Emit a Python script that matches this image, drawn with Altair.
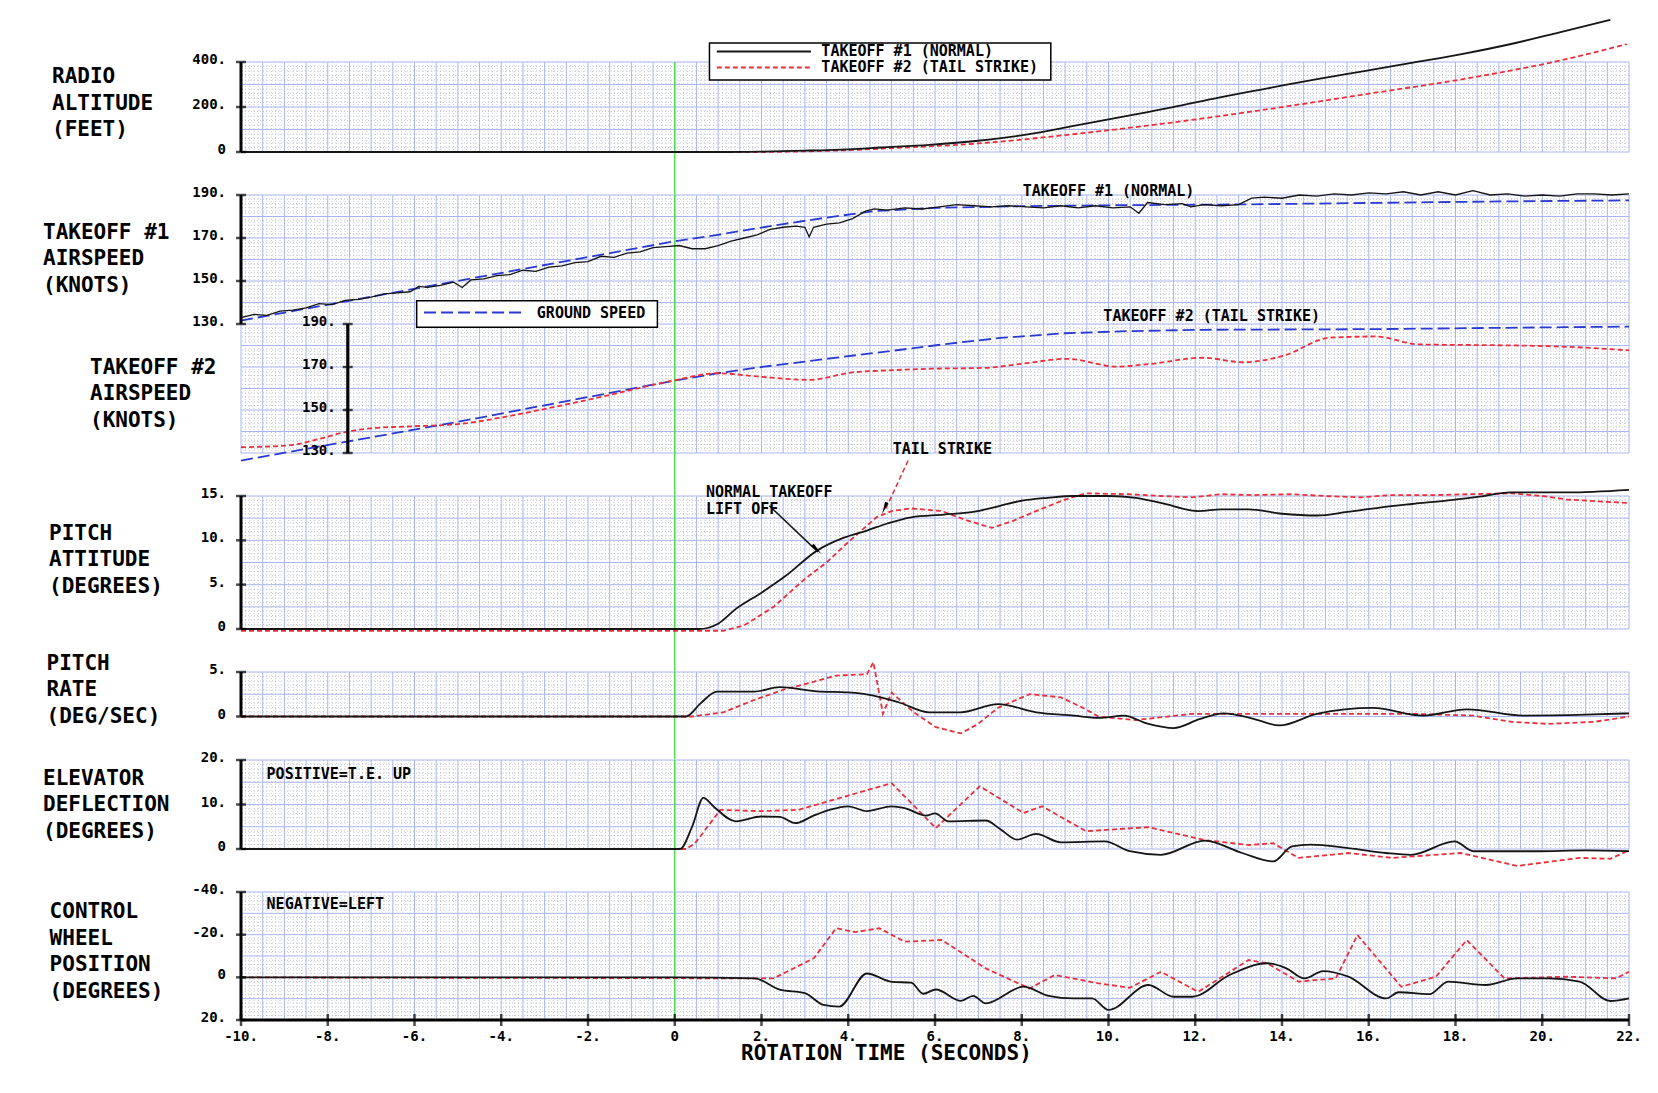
import altair as alt
import pandas as pd
import numpy as np

# ---------------- data ----------------
# Radio altitude (feet)
ALT1_T = [-10, 0, 1, 2, 3, 4, 4.75, 5.87, 6.99, 8.1, 9.23, 10.34, 11.46, 12.57, 13.7, 14.81, 15.93, 17.05, 18.17, 19.28, 20.4, 21.57]
ALT1_V = [0, 0, 0, 2, 6, 12, 20, 32, 50, 77, 117, 157, 198, 243, 284, 324, 361, 398, 436, 480, 532, 587]
ALT2_T = [-10, 0, 2, 3, 4, 4.75, 6.99, 9.23, 11.46, 13.7, 15.93, 18.17, 20.4, 21.96]
ALT2_V = [0, 0, 0, 3, 8, 15, 38, 80, 131, 191, 257, 324, 406, 480]

# Takeoff #1 airspeed (knots)
SPD1_T = [-10, -9.7, -9.4, -9.1, -8.8, -8.5, -8.2, -7.9, -7.6, -7.3, -7.0, -6.7, -6.4, -6.1, -5.9, -5.7, -5.4,
          -5.1, -4.9, -4.7, -4.4, -4.1, -3.8, -3.5, -3.2, -2.9, -2.6, -2.3, -2.0, -1.7, -1.4, -1.1, -0.8, -0.5,
          -0.2, 0.1, 0.4, 0.7, 1.0, 1.3, 1.6, 1.9, 2.2, 2.5, 2.8, 3.0, 3.1, 3.2, 3.5, 3.8, 4.1, 4.4, 4.6, 4.9,
          5.3, 5.7, 6.1, 6.5, 6.9, 7.3, 7.7, 8.1, 8.5, 8.9, 9.3, 9.7, 10.1, 10.5, 10.7, 10.9, 11.3, 11.7, 11.9,
          12.2, 12.6, 13.0, 13.3, 13.6, 14.0, 14.4, 14.8, 15.2, 15.6, 16.0, 16.4, 16.8, 17.2, 17.6, 18.0, 18.4,
          18.8, 19.2, 19.6, 20.0, 20.4, 20.8, 21.2, 21.6, 22.0]
SPD1_V = [133.0, 134.5, 134.0, 136.0, 136.5, 137.5, 139.5, 139.0, 141.0, 141.5, 142.5, 144.0, 144.5, 145.0,
          147.5, 147.0, 148.0, 149.5, 147.0, 150.5, 151.0, 152.5, 153.0, 155.0, 154.5, 156.5, 157.0, 158.5,
          159.0, 161.5, 161.0, 163.0, 163.5, 165.5, 166.0, 166.5, 165.0, 165.0, 166.5, 168.5, 170.0, 171.5,
          174.0, 175.0, 175.5, 175.0, 170.5, 175.0, 176.5, 177.0, 179.0, 182.5, 183.5, 183.0, 184.0, 183.5,
          184.5, 185.5, 185.0, 184.5, 185.0, 184.5, 184.0, 185.0, 184.0, 185.0, 184.0, 184.5, 181.5, 186.5,
          185.5, 186.0, 184.5, 185.5, 185.0, 185.5, 188.5, 189.0, 188.5, 190.0, 189.5, 190.5, 190.0, 191.0,
          190.5, 191.5, 190.0, 191.5, 190.0, 192.0, 190.0, 190.5, 189.5, 190.0, 189.5, 190.5, 190.5, 190.0, 190.5]
GS1_T = [-10, 0, 1, 2.5, 3.5, 4.6, 6, 8, 10, 13, 16, 19, 22]
GS1_V = [131.6, 168.5, 171.5, 176.5, 179.5, 182.5, 184.0, 184.8, 185.2, 185.6, 186.3, 187.0, 187.5]

# Takeoff #2 airspeed (knots)
SPD2_T = [-10, -8.9, -8.2, -7.6, -7.0, -6.2, -4.9, -4.0, -2.8, -1.5, -0.1, 1.0, 1.9, 3.1, 4.06, 5.0, 5.9,
          7.15, 8.0, 9.04, 10.19, 11.0, 12.17, 13.11, 14.04, 15.1, 16.14, 17.18, 18.5, 19.48, 21.0, 22.0]
SPD2_V = [132.7, 133.5, 136.5, 139.7, 141.5, 142.3, 143.6, 146.5, 151.3, 157.0, 163.4, 167.1, 165.6, 164.0,
          167.4, 168.5, 169.2, 169.6, 171.5, 173.8, 170.2, 171.5, 174.3, 172.2, 175.3, 183.6, 184.2, 180.5,
          180.2, 180.0, 179.0, 177.7]
GS2_T = [-10, -5, 0, 1, 2, 3, 3.5, 5, 6.3, 7.5, 9, 10.5, 12.2, 16, 20.5, 22]
GS2_V = [126.5, 144.5, 163.7, 167.1, 170.0, 172.5, 173.8, 177.5, 180.8, 183.5, 185.7, 186.7, 187.3, 187.6, 188.5, 188.8]

# Pitch attitude (degrees)
PIT1_T = [-10, 0.55, 1.0, 1.41, 2.0, 2.56, 3.28, 3.9, 4.43, 4.9, 5.45, 6.2, 6.88, 7.5, 8.04, 8.6, 9.19, 10.0,
          10.63, 11.3, 12.07, 12.6, 13.23, 14.0, 14.81, 15.5, 16.25, 17.0, 17.83, 18.5, 19.28, 20.57, 22]
PIT1_V = [0, 0, 0.6, 2.27, 4.1, 6.0, 8.84, 10.3, 11.1, 11.9, 12.6, 12.9, 13.2, 13.9, 14.5, 14.8, 15.0, 15.0,
          14.8, 14.1, 13.3, 13.5, 13.5, 13.0, 12.8, 13.2, 13.7, 14.1, 14.5, 14.9, 15.4, 15.4, 15.7]
PIT2_T = [-10, 1.12, 1.6, 2.28, 3.0, 3.5, 4.0, 4.65, 5.0, 5.45, 6.16, 6.7, 7.31, 7.8, 8.33, 9.0, 9.48, 10.49,
          11.2, 11.93, 12.6, 13.3, 14.2, 15.0, 15.82, 16.5, 17.5, 18.3, 19.28, 20.0, 20.57, 21.3, 22]
PIT2_V = [-0.2, -0.2, 0.4, 2.5, 5.65, 7.5, 9.8, 12.6, 13.3, 13.6, 13.3, 12.3, 11.4, 12.2, 13.3, 14.6, 15.3, 15.2,
          15.0, 14.85, 15.2, 15.1, 15.2, 15.0, 14.85, 15.1, 15.1, 15.2, 15.3, 15.0, 14.6, 14.4, 14.2]

# Pitch rate (deg/sec)
RAT1_T = [-10, 0.26, 0.6, 0.97, 1.83, 2.42, 3.28, 4.0, 4.58, 5.16, 5.87, 6.59, 7.46, 8.33, 9.2, 9.77, 10.35,
          10.9, 11.5, 12.1, 12.65, 13.3, 13.94, 14.8, 16.1, 17.26, 18.26, 19.57, 21.0, 22]
RAT1_V = [0, 0, 1.5, 2.8, 2.8, 3.3, 2.83, 2.7, 2.35, 1.6, 0.47, 0.47, 1.4, 0.47, 0.1, -0.16, 0.1, -0.8, -1.3,
          -0.3, 0.36, -0.2, -1.0, 0.29, 0.96, 0.1, 0.81, 0.1, 0.2, 0.36]
RAT2_T = [-10, 0.4, 1.12, 1.8, 2.56, 3.2, 3.72, 4.43, 4.58, 4.8, 5.0, 5.5, 6.02, 6.6, 7.0, 7.46, 8.18, 8.9, 9.4,
          9.77, 10.63, 11.93, 14.1, 17.0, 18.4, 19.3, 20.14, 21.2, 22]
RAT2_V = [0, 0, 0.47, 1.8, 3.1, 3.9, 4.6, 4.75, 6.1, 0.3, 2.7, 0.5, -1.2, -1.9, -0.8, 1.0, 2.5, 2.16, 1.0, 0.0,
          -0.4, 0.3, 0.3, 0.3, 0.1, -0.6, -0.83, -0.6, 0.0]

# Elevator deflection (degrees)
ELE1_T = [-10, 0.12, 0.4, 0.66, 0.9, 1.41, 1.99, 2.42, 2.78, 3.2, 3.57, 4.0, 4.43, 5.0, 5.3, 5.8, 6.0, 6.31,
          7.17, 7.5, 7.89, 8.33, 8.9, 9.91, 10.49, 11.21, 12.22, 13.08, 13.8, 14.23, 14.66, 15.53, 16.4, 16.97,
          17.98, 18.41, 19.85, 21.0, 22]
ELE1_V = [0, 0, 5, 11.5, 9.5, 6.2, 7.3, 7.2, 5.8, 7.5, 8.8, 9.6, 8.5, 9.6, 9.2, 7.5, 8.0, 6.2, 6.4, 4.5, 2.1,
          3.4, 1.5, 1.7, -0.5, -1.3, 1.9, -0.9, -2.8, 0.6, 1.0, 0.2, -0.9, -1.3, 1.7, -0.5, -0.5, -0.3, -0.5]
ELE2_T = [-10, 0.26, 0.47, 1.05, 1.99, 2.85, 4.0, 5.0, 6.02, 7.03, 8.04, 8.47, 9.48, 10.92, 12.22, 13.23, 13.8,
          14.38, 15.53, 16.54, 18.12, 19.42, 20.86, 21.57, 22]
ELE2_V = [0, 0, 1.3, 8.8, 8.5, 8.8, 12.0, 14.8, 4.7, 14.1, 8.1, 9.6, 4.0, 4.9, 2.0, 0.9, 1.3, -2.0, -0.9, -2.0,
          -0.9, -3.8, -2.0, -2.2, -0.3]

# Control wheel position (degrees, negative = left)
WHL1_T = [-10, 0, 1.84, 2.42, 3.0, 3.43, 3.79, 4.43, 5.0, 5.45, 5.73, 6.02, 6.6, 6.88, 7.17, 8.04, 8.62, 9.19,
          9.62, 10.0, 10.92, 11.5, 11.93, 12.79, 13.66, 14.1, 14.52, 14.95, 15.53, 16.4, 16.69, 17.4, 17.83,
          18.7, 19.42, 20.14, 20.86, 21.57, 22]
WHL1_V = [0, 0, 0.5, 5.8, 7.4, 12.9, 13.7, -1.8, 2.1, 2.5, 7.7, 5.7, 11.0, 8.7, 12.2, 4.4, 8.7, 9.9, 9.9, 15.3,
          3.6, 9.1, 9.1, -1.1, -6.6, -4.2, 0.5, -2.9, -0.3, 9.9, 7.0, 7.9, 2.0, 3.6, 0.5, 0.5, 2.0, 11.1, 9.9]
WHL2_T = [-10, 2.28, 3.21, 3.72, 4.16, 4.72, 5.3, 6.16, 7.17, 8.18, 8.76, 9.77, 10.49, 11.21, 12.07, 13.23,
          13.66, 14.38, 15.24, 15.74, 16.75, 17.55, 18.26, 19.13, 20.57, 21.7, 22]
WHL2_V = [0, 0.5, -9.0, -23.0, -21.2, -23.0, -16.7, -17.5, -4.2, 5.2, -1.1, 2.8, 4.9, -2.6, 6.8, -8.1, -6.6,
          2.0, 0.5, -19.8, 4.4, -0.3, -17.5, 0.5, -0.3, 0.5, -2.6]

# Axis ticks and labels
X_TICKS = list(range(-10, 23, 2))
X_LABELS = ["-10.", "-8.", "-6.", "-4.", "-2.", "0", "2.", "4.", "6.", "8.", "10.", "12.", "14.", "16.",
            "18.", "20.", "22."]
ALT_TICKS, ALT_LABELS = [0, 200, 400], ["0", "200.", "400."]
SPD_TICKS, SPD_LABELS = [130, 150, 170, 190], ["130.", "150.", "170.", "190."]
PIT_TICKS, PIT_LABELS = [0, 5, 10, 15], ["0", "5.", "10.", "15."]
RAT_TICKS, RAT_LABELS = [0, 5], ["0", "5."]
ELE_TICKS, ELE_LABELS = [0, 10, 20], ["0", "10.", "20."]
WHL_TICKS, WHL_LABELS = [-40, -20, 0, 20], ["-40.", "-20.", "0", "20."]

ROW_TITLES = {
    "alt": ["RADIO", "ALTITUDE", "(FEET)"],
    "spd1": ["TAKEOFF #1", "AIRSPEED", "(KNOTS)"],
    "spd2": ["TAKEOFF #2", "AIRSPEED", "(KNOTS)"],
    "pit": ["PITCH", "ATTITUDE", "(DEGREES)"],
    "rat": ["PITCH", "RATE", "(DEG/SEC)"],
    "ele": ["ELEVATOR", "DEFLECTION", "(DEGREES)"],
    "whl": ["CONTROL", "WHEEL", "POSITION", "(DEGREES)"],
}

# ---------------- styling ----------------
FONT = "DejaVu Sans Mono"
W = 1388
GAP = 43
BLACK = "#151515"
RED = "#e8303a"
BLUE = "#2a3ad0"
GREEN = "#3fdc3f"
MAJC = "#a9b5ee"
MINC = "#a4a8c0"
XS = alt.Scale(domain=[-10, 22], nice=False, zero=False)


def X(f="x"):
    return alt.X(f"{f}:Q", scale=XS, axis=None)


def Y(ysc, f="y"):
    return alt.Y(f"{f}:Q", scale=ysc, axis=None)


def grid(ysc, y0, y1, ymin_step):
    n_x = 320
    xmaj = [round(-10 + k * 0.1, 3) for k in range(n_x + 1) if k % 5 == 0]
    xmin = [round(-10 + k * 0.1, 3) for k in range(n_x + 1) if k % 5 != 0]
    n_y = int(round((y1 - y0) / ymin_step))
    ymaj = [round(y0 + k * ymin_step, 3) for k in range(n_y + 1) if k % 5 == 0]
    ymn = [round(y0 + k * ymin_step, 3) for k in range(n_y + 1) if k % 5 != 0]
    dot = dict(color=MINC, strokeDash=[1, 2], strokeWidth=1, opacity=0.6)
    solid = dict(color=MAJC, strokeWidth=1)
    return [
        alt.Chart(pd.DataFrame({"x": xmin})).mark_rule(**dot).encode(x=X()),
        alt.Chart(pd.DataFrame({"y": ymn})).mark_rule(**dot).encode(y=Y(ysc)),
        alt.Chart(pd.DataFrame({"x": xmaj})).mark_rule(**solid).encode(x=X()),
        alt.Chart(pd.DataFrame({"y": ymaj})).mark_rule(**solid).encode(y=Y(ysc)),
    ]


def yaxis(ysc, y0, y1, ticks, labels, xpos=-10, dx=-15):
    dom = alt.Chart(pd.DataFrame({"x": [xpos], "y": [y0], "y2": [y1]})).mark_rule(
        color="black", strokeWidth=3).encode(x=X(), y=Y(ysc), y2="y2:Q")
    tk = alt.Chart(pd.DataFrame({"x": [xpos] * len(ticks), "y": ticks})).mark_tick(
        orient="horizontal", color="black", size=10, thickness=2.5).encode(x=X(), y=Y(ysc))
    lb = alt.Chart(pd.DataFrame({"x": [xpos] * len(ticks), "y": ticks, "s": labels})).mark_text(
        align="right", baseline="middle", dx=dx, dy=-2, font=FONT, fontSize=14, fontWeight="bold",
        color="black").encode(x=X(), y=Y(ysc), text="s:N")
    return [dom, tk, lb]


def xaxis(ysc, ybottom):
    dom = alt.Chart(pd.DataFrame({"x": [-10], "x2": [22], "y": [ybottom]})).mark_rule(
        color="black", strokeWidth=3).encode(x=X(), x2="x2:Q", y=Y(ysc))
    tk = alt.Chart(pd.DataFrame({"x": X_TICKS, "y": [ybottom] * len(X_TICKS)})).mark_tick(
        orient="vertical", color="black", size=12, thickness=2.5).encode(x=X(), y=Y(ysc))
    lb = alt.Chart(pd.DataFrame({"x": X_TICKS, "y": [ybottom] * len(X_TICKS), "s": X_LABELS})).mark_text(
        align="center", baseline="middle", dy=17, font=FONT, fontSize=14, fontWeight="bold",
        color="black").encode(x=X(), y=Y(ysc), text="s:N")
    return [dom, tk, lb]


def green(h):
    return alt.Chart(pd.DataFrame({"x": [0]})).mark_rule(color=GREEN, strokeWidth=1.3, clip=False).encode(
        x=X(), y=alt.value(0), y2=alt.value(h))


def series(t, v, ysc, color, dash=None, width=1.6, offset=0.0, interp="linear"):
    df = pd.DataFrame({"t": t, "v": np.array(v, dtype=float) - offset})
    kw = dict(color=color, strokeWidth=width, clip=False, interpolate=interp)
    if dash:
        kw["strokeDash"] = dash
    return alt.Chart(df).mark_line(**kw).encode(x=X("t"), y=Y(ysc, "v"))


def txt(x, y, s, ysc, align="left", size=15):
    df = pd.DataFrame({"x": [x], "y": [y], "s": [s]})
    return alt.Chart(df).mark_text(align=align, baseline="middle", font=FONT, fontSize=size,
                                   fontWeight="bold", color="black").encode(x=X(), y=Y(ysc), text="s:N")


def box(x, x2, y, y2, ysc):
    df = pd.DataFrame({"x": [x], "x2": [x2], "y": [y], "y2": [y2]})
    return alt.Chart(df).mark_rect(fill="white", stroke="black", strokeWidth=1.5).encode(
        x=X(), x2="x2:Q", y=Y(ysc), y2="y2:Q")


def seg(x, x2, y, y2, ysc, color, dash=None, width=2):
    df = pd.DataFrame({"x": [x], "x2": [x2], "y": [y], "y2": [y2]})
    kw = dict(color=color, strokeWidth=width)
    if dash:
        kw["strokeDash"] = dash
    return alt.Chart(df).mark_rule(**kw).encode(x=X(), x2="x2:Q", y=Y(ysc), y2="y2:Q")


ARROW = "M0,0L0.32,2.2L-0.32,2.2Z"


def arrowhead(x, y, angle, ysc):
    df = pd.DataFrame({"x": [x], "y": [y]})
    return alt.Chart(df).mark_point(shape=ARROW, filled=True, color="black", size=130, angle=angle,
                                    opacity=1).encode(x=X(), y=Y(ysc))


def titles(lines, px, pys, size=21):
    out = []
    for line, py in zip(lines, pys):
        out.append(alt.Chart(pd.DataFrame({"a": [0]})).mark_text(
            align="left", baseline="middle", font=FONT, fontSize=size, fontWeight="bold", color="black",
            text=line).encode(x=alt.value(px), y=alt.value(py)))
    return out


# ---------------- panels ----------------
# Radio altitude
H1 = 90
ys1 = alt.Scale(domain=[0, 400], nice=False, zero=False)
anchor = alt.Chart(pd.DataFrame({"a": [0]})).mark_point(color="white", size=1, filled=True).encode(
    x=alt.value(-232), y=alt.value(-53))
p1 = alt.layer(
    anchor,
    *grid(ys1, 0, 400, 20),
    green(H1 + GAP),
    series(ALT2_T, ALT2_V, ys1, RED, dash=[5, 3], width=1.8, interp="monotone"),
    series(ALT1_T, ALT1_V, ys1, BLACK, width=1.8, interp="monotone"),
    box(0.80, 8.67, 320, 484.5, ys1),
    seg(0.97, 3.14, 447, 447, ys1, BLACK, width=2),
    seg(0.97, 3.14, 376, 376, ys1, RED, dash=[5, 3], width=2),
    txt(3.38, 447, "TAKEOFF #1 (NORMAL)", ys1),
    txt(3.38, 376, "TAKEOFF #2 (TAIL STRIKE)", ys1),
    *yaxis(ys1, 0, 400, ALT_TICKS, ALT_LABELS),
    *titles(ROW_TITLES["alt"], -189, [15, 41.6, 68]),
).properties(width=W, height=H1)

# Airspeeds (two stacked scales: takeoff #2 drawn 60 kt lower)
H2 = 258
ys2 = alt.Scale(domain=[70, 190], nice=False, zero=False)
X2AX = -7.54
p2 = alt.layer(
    *grid(ys2, 70, 190, 2),
    green(H2 + GAP),
    box(-5.95, -0.40, 128.5, 140.8, ys2),
    seg(-5.78, -3.48, 135.3, 135.3, ys2, BLUE, dash=[12, 5], width=2),
    txt(-3.18, 135.3, "GROUND SPEED", ys2),
    series(GS1_T, GS1_V, ys2, BLUE, dash=[12, 5], width=1.8),
    series(SPD1_T, SPD1_V, ys2, BLACK, width=1.3),
    series(GS2_T, GS2_V, ys2, BLUE, dash=[12, 5], width=1.8, offset=60),
    series(SPD2_T, SPD2_V, ys2, RED, dash=[5, 3], width=1.8, offset=60, interp="monotone"),
    *yaxis(ys2, 130, 190, SPD_TICKS, SPD_LABELS),
    *yaxis(ys2, 70, 130, [t - 60 for t in SPD_TICKS], SPD_LABELS, xpos=X2AX, dx=-12),
    txt(10.0, 192, "TAKEOFF #1 (NORMAL)", ys2, align="center"),
    txt(12.38, 133.7, "TAKEOFF #2 (TAIL STRIKE)", ys2, align="center"),
    *titles(ROW_TITLES["spd1"], -198, [37.6, 64, 90.5]),
    *titles(ROW_TITLES["spd2"], -151, [173, 199, 226]),
).properties(width=W, height=H2)

# Pitch attitude
H3 = 133
ys3 = alt.Scale(domain=[0, 15], nice=False, zero=False)
p3 = alt.layer(
    *grid(ys3, 0, 15, 0.5),
    green(H3 + GAP),
    series(PIT2_T, PIT2_V, ys3, RED, dash=[5, 3], width=1.8),
    series(PIT1_T, PIT1_V, ys3, BLACK, width=1.8, interp="monotone"),
    seg(2.18, 3.3, 13.9, 8.7, ys3, BLACK, width=1.5),
    arrowhead(3.38, 8.47, 135, ys3),
    seg(5.38, 4.85, 19.0, 13.4, ys3, RED, dash=[5, 3], width=1.5),
    arrowhead(4.78, 12.97, 202, ys3),
    txt(6.17, 20.3, "TAIL STRIKE", ys3, align="center"),
    txt(0.72, 15.45, "NORMAL TAKEOFF", ys3),
    txt(0.72, 13.5, "LIFT OFF", ys3),
    *yaxis(ys3, 0, 15, PIT_TICKS, PIT_LABELS),
    *titles(ROW_TITLES["pit"], -192, [38, 64, 91]),
).properties(width=W, height=H3)

# Pitch rate
H4 = 44.5
ys4 = alt.Scale(domain=[0, 5], nice=False, zero=False)
p4 = alt.layer(
    *grid(ys4, 0, 5, 0.5),
    green(H4 + GAP),
    series(RAT2_T, RAT2_V, ys4, RED, dash=[5, 3], width=1.8),
    series(RAT1_T, RAT1_V, ys4, BLACK, width=1.8, interp="monotone"),
    *yaxis(ys4, 0, 5, RAT_TICKS, RAT_LABELS),
    *titles(ROW_TITLES["rat"], -194.5, [-8, 18, 45]),
).properties(width=W, height=H4)

# Elevator deflection
H5 = 89
ys5 = alt.Scale(domain=[0, 20], nice=False, zero=False)
p5 = alt.layer(
    *grid(ys5, 0, 20, 1),
    green(H5 + GAP),
    series(ELE2_T, ELE2_V, ys5, RED, dash=[5, 3], width=1.8),
    series(ELE1_T, ELE1_V, ys5, BLACK, width=1.8, interp="monotone"),
    txt(-9.41, 16.9, "POSITIVE=T.E. UP", ys5),
    *yaxis(ys5, 0, 20, ELE_TICKS, ELE_LABELS),
    *titles(ROW_TITLES["ele"], -198, [18.5, 45, 71.5]),
).properties(width=W, height=H5)

# Control wheel position
H6 = 128
ys6 = alt.Scale(domain=[-40, 20], nice=False, zero=False, reverse=True)
p6 = alt.layer(
    *grid(ys6, -40, 20, 2),
    green(H6),
    series(WHL2_T, WHL2_V, ys6, RED, dash=[5, 3], width=1.8),
    series(WHL1_T, WHL1_V, ys6, BLACK, width=1.8, interp="monotone"),
    txt(-9.41, -34.5, "NEGATIVE=LEFT", ys6),
    *yaxis(ys6, -40, 20, WHL_TICKS, WHL_LABELS),
    *xaxis(ys6, 20),
    *titles(["ROTATION TIME (SECONDS)"], 500, [H6 + 34]),
    *titles(ROW_TITLES["whl"], -191.4, [19.5, 46.5, 72.5, 99.5]),
).properties(width=W, height=H6)

chart = alt.vconcat(p1, p2, p3, p4, p5, p6, spacing=GAP, bounds="flush").resolve_scale(
    x="independent", y="independent").properties(padding=0, background="white").configure_view(stroke=None)

chart.save("out.html", embed_options={"renderer": "svg", "actions": False})
